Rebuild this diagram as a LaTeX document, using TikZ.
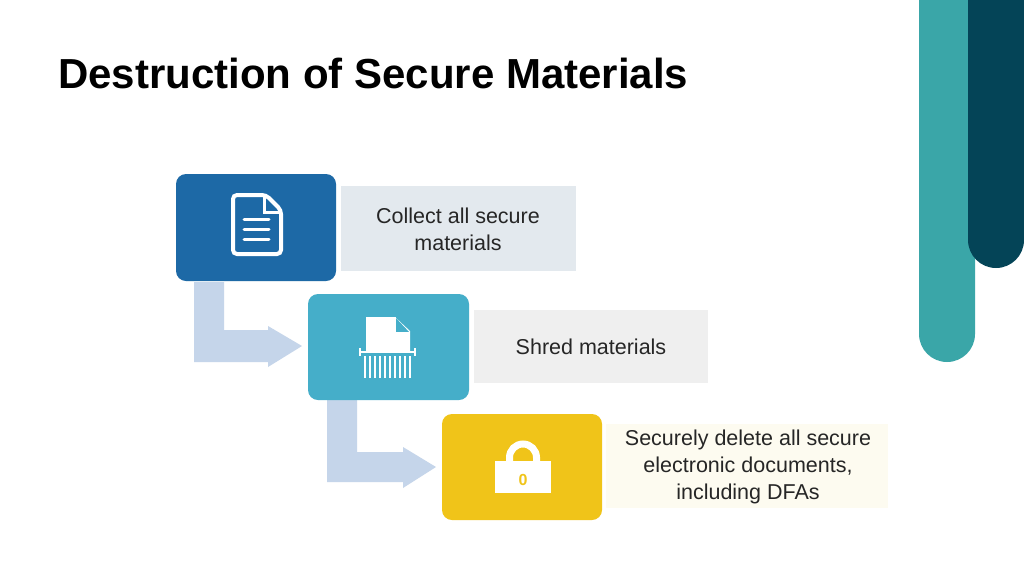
\documentclass[tikz,border=0pt]{standalone}
\usepackage{fontspec}
\setmainfont{Liberation Sans}
\definecolor{cA}{HTML}{1D69A6}
\definecolor{cB}{HTML}{45AEC9}
\definecolor{cC}{HTML}{F0C419}
\definecolor{lA}{HTML}{E3E9EE}
\definecolor{lB}{HTML}{EFEFEF}
\definecolor{lC}{HTML}{FDFBF0}
\definecolor{arr}{HTML}{C5D5EA}
\definecolor{teal}{HTML}{3AA6A8}
\definecolor{dteal}{HTML}{044457}
\tikzset{x=1pt,y=-1pt,
 stepbox/.style={rounded corners=10pt},
 lbl/.style={align=center,font=\fontsize{21.5}{27}\selectfont,text=black!85}}
\begin{document}
\begin{tikzpicture}
\useasboundingbox (0,0) rectangle (1024,576);
\fill[white] (0,0) rectangle (1024,576);
% side bars
\fill[teal,rounded corners=28pt] (919,-30) rectangle (975,362);
\fill[dteal,rounded corners=28pt] (968,-30) rectangle (1024,268);
\fill[white] (0,-30) rectangle (1024,0);
\node[anchor=base west,inner sep=0pt,font=\bfseries\fontsize{42}{46}\selectfont] (title) at (58,88) {Destruction of Secure Materials};
% arrows
\fill[arr] (194,282) -- (224,282) -- (224,330) -- (268,330) -- (268,326) -- (302,346) -- (268,367) -- (268,362) -- (194,362) -- cycle;
\fill[arr] (327,400) -- (357,400) -- (357,452) -- (403,452) -- (403,447) -- (436,467) -- (403,488) -- (403,482) -- (327,482) -- cycle;
% label boxes
\fill[lA] (341,186) rectangle (576,271);
\node[lbl] (t1) at (458,229) {Collect all secure\\materials};
\fill[lB] (474,310) rectangle (708,383);
\node[lbl] (t2) at (591,347) {Shred materials};
\fill[lC] (606,424) rectangle (888,508);
\node[lbl] (t3) at (748,467) {Securely delete all secure\\electronic documents,\\including DFAs};
% step boxes
\fill[cA,stepbox] (176,174) rectangle (336,281);
\fill[cB,stepbox] (308,294) rectangle (469,400);
\fill[cC,stepbox] (442,414) rectangle (602,520);
% document icon
\draw[white,line width=4pt,rounded corners=4pt] (233,195) -- (266,195) -- (281,210) -- (281,254) -- (233,254) -- cycle;
\draw[white,line width=3pt] (264,195) -- (264,212) -- (281,212);
\draw[white,line width=3pt,line cap=round] (244,219) -- (269,219) (244,229) -- (269,229) (244,239) -- (269,239);
% shredder icon
\fill[white] (366,317) -- (395,317) -- (410,331) -- (410,352) -- (366,352) -- cycle;
\fill[cB] (395,317) -- (395,333) -- (410,333) -- cycle;
\draw[white,line width=1.3pt] (395,317) -- (395,333) -- (410,333);
\draw[white,line width=2pt] (360,352) -- (415,352) (360,348) -- (360,356) (415,348) -- (415,356);
\foreach \i in {0,...,9} \draw[white,line width=1.5pt] (365+\i*5,356) -- (365+\i*5,378);
% lock icon
\draw[white,line width=7pt] (509.5,464) -- (509.5,457.5) arc[start angle=180,end angle=360,radius=13.5] -- (536.5,464);
\fill[white] (495,461) rectangle (551,493);
\node[text=cC,font=\bfseries\fontsize{16}{16}\selectfont] (zero) at (523,480) {0};
\end{tikzpicture}
\end{document}
